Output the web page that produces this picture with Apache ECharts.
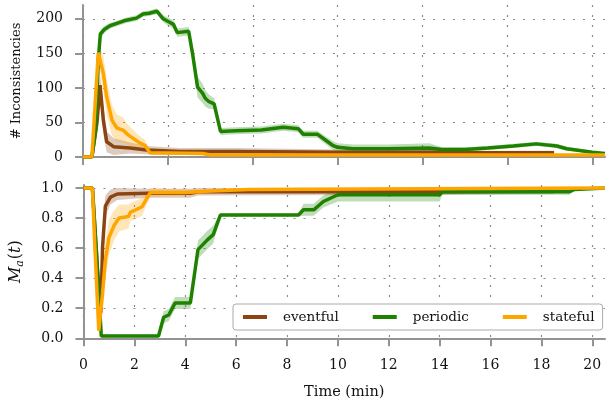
<!DOCTYPE html>
<html><head><meta charset="utf-8">
<script src="https://cdn.jsdelivr.net/npm/echarts@6/dist/echarts.min.js"></script>
<style>html,body{margin:0;padding:0;background:#fff}#c{width:606px;height:402px}</style>
</head><body><div id="c"></div>
<script>
// ---- tick values ----
const xTicksTop = [0, 200, 400, 600, 800, 1000, 1200].map(s => s / 60); // seconds -> min
const xTicksBottom = [0, 2, 4, 6, 8, 10, 12, 14, 16, 18, 20];
const yTicksTop = [0, 50, 100, 150, 200];
const yTicksBottom = [0, 0.2, 0.4, 0.6, 0.8, 1.0];

const names = ['eventful', 'periodic', 'stateful'];
const colors = ['#8b4513', '#1e8200', '#ffa500'];

// ---- top panel: # inconsistencies ----
const topEventfulT = [0, 0.35, 0.55, 0.67, 0.8, 0.93, 1.2, 1.85, 2.5, 3.8, 6, 10, 14, 14.2, 18.5];
const topEventfulV = [0, 0, 50, 104, 53, 22, 15, 13, 10, 8, 8, 7, 7, 6, 6];
const topEventfulS = [0, 0, 10, 15, 20, 15, 12, 8, 6, 5, 5, 4, 4, 3, 3];

const topPeriodicT = [0, 0.35, 0.5, 0.6, 0.68, 0.85, 1.06, 1.3, 1.7, 2.1, 2.36, 2.6, 2.9, 3.15, 3.4, 3.55, 3.7, 4.15, 4.3, 4.5, 4.7, 4.8, 4.95, 5.15, 5.4, 6.0, 7.0, 7.86, 8.45, 8.65, 9.2, 9.8, 10.0, 10.6, 12.0, 13.6, 14.1, 15.0, 15.9, 16.9, 17.8, 18.6, 19.0, 20.0, 20.5];
const topPeriodicV = [0, 0, 40, 140, 178, 185, 190, 193, 198, 201, 207, 208, 211, 200, 195, 192, 180, 182, 150, 101, 92, 85, 80, 77, 37, 38, 39, 43, 41, 33, 33, 17, 14, 12, 12, 13, 11, 11, 13, 16, 19, 16, 12, 7, 5];
const topPeriodicS = [0, 0, 5, 6, 6, 5, 4, 4, 4, 4, 4, 4, 4, 5, 6, 6, 6, 6, 12, 15, 14, 12, 10, 8, 5, 5, 5, 5, 5, 5, 5, 6, 6, 6, 6, 7, 3, 3, 3, 3, 3, 3, 3, 2, 2];

const topStatefulT = [0, 0.35, 0.6, 0.8, 0.93, 1.14, 1.33, 1.57, 1.77, 1.97, 2.24, 2.43, 2.63, 4.7, 5.0, 20.5];
const topStatefulV = [0, 0, 151, 121, 87, 53, 42, 39, 32, 27, 20, 17, 6, 5, 3, 3];
const topStatefulS = [0, 0, 15, 25, 25, 22, 20, 18, 15, 12, 10, 8, 3, 2, 1, 1];

// ---- bottom panel: M_a(t) ----
const botEventfulT = [0, 0.35, 0.55, 0.68, 0.75, 0.86, 1.06, 1.33, 2.5, 4.2, 4.5, 14, 18.5];
const botEventfulV = [1, 1, 0.45, 0.17, 0.61, 0.88, 0.94, 0.96, 0.965, 0.965, 0.975, 0.975, 0.98];
const botEventfulS = [0, 0, 0.1, 0.1, 0.12, 0.07, 0.05, 0.04, 0.03, 0.03, 0.025, 0.02, 0.02];

const botPeriodicT = [0, 0.35, 0.5, 0.7, 2.95, 3.15, 3.35, 3.6, 4.2, 4.5, 4.87, 5.1, 5.38, 8.45, 8.65, 9.05, 9.43, 10.0, 14.0, 14.1, 19.1, 19.3, 20.5];
const botPeriodicV = [1, 1, 0.6, 0.015, 0.015, 0.14, 0.155, 0.235, 0.235, 0.59, 0.655, 0.69, 0.82, 0.82, 0.855, 0.855, 0.91, 0.955, 0.955, 0.975, 0.975, 0.99, 1.0];
const botPeriodicS = [0, 0, 0.03, 0.01, 0.01, 0.04, 0.04, 0.04, 0.04, 0.06, 0.06, 0.06, 0.01, 0.01, 0.04, 0.04, 0.04, 0.045, 0.045, 0.02, 0.02, 0.01, 0.005];

const botStatefulT = [0, 0.35, 0.45, 0.6, 0.75, 0.86, 1.0, 1.2, 1.4, 1.77, 1.85, 2.05, 2.3, 2.5, 2.63, 4.0, 5.0, 6.5, 20.5];
const botStatefulV = [1, 1, 0.6, 0.05, 0.30, 0.52, 0.67, 0.75, 0.80, 0.81, 0.84, 0.855, 0.875, 0.935, 0.97, 0.97, 0.98, 0.99, 1.0];
const botStatefulS = [0, 0, 0.05, 0.05, 0.1, 0.12, 0.12, 0.1, 0.09, 0.08, 0.06, 0.06, 0.06, 0.04, 0.03, 0.02, 0.015, 0.01, 0.005];

const FONT = 'DejaVu Serif';
const AX = '#939393';
const series = [];
function addSeries(idx, panel, t, v, s) {
  const c = colors[idx], nm = names[idx];
  const band = t.map((x, i) => [x, v[i] - s[i], v[i] + s[i]]);
  series.push({
    type: 'custom', name: nm + ' band ' + panel, xAxisIndex: panel, yAxisIndex: panel,
    data: band, encode: {x: 0, y: [1, 2]}, clip: true, silent: true, z: 1,
    renderItem: function (params, api) {
      if (params.dataIndex !== 0) return null;
      const upper = band.map(d => api.coord([d[0], d[2]]));
      const lower = band.map(d => api.coord([d[0], d[1]])).reverse();
      return {type: 'polygon', shape: {points: upper.concat(lower)},
        style: {fill: c, opacity: 0.28}};
    }
  });
  series.push({type: 'line', name: nm, xAxisIndex: panel, yAxisIndex: panel,
    data: t.map((x, i) => [x, v[i]]), symbol: 'none',
    lineStyle: {color: c, width: 3.5}, itemStyle: {color: c}, z: 3 + idx});
}
addSeries(0, 0, topEventfulT, topEventfulV, topEventfulS);
addSeries(1, 0, topPeriodicT, topPeriodicV, topPeriodicS);
addSeries(2, 0, topStatefulT, topStatefulV, topStatefulS);
addSeries(0, 1, botEventfulT, botEventfulV, botEventfulS);
addSeries(1, 1, botPeriodicT, botPeriodicV, botPeriodicS);
addSeries(2, 1, botStatefulT, botStatefulV, botStatefulS);

const gridLine = {show: true, lineStyle: {color: '#8a8a8a', width: 1.2, type: [2, 8]}};
const axLine = {show: true, onZero: false, lineStyle: {color: AX, width: 2}};
const label = {fontFamily: FONT, fontSize: 14, color: '#111'};

const chart = echarts.init(document.getElementById('c'), null, {renderer: 'canvas'});
chart.setOption({
  animation: false,
  backgroundColor: '#fff',
  grid: [
    {left: 83, right: 1, top: 5, height: 152},
    {left: 83, right: 1, top: 185, height: 153.3}
  ],
  xAxis: [
    {type: 'value', gridIndex: 0, min: 0, max: 20.5,
      axisLine: axLine, axisTick: {show: true, customValues: xTicksTop, length: 8, lineStyle: {color: AX, width: 2}},
      axisLabel: {show: false}, splitLine: gridLine},
    {type: 'value', gridIndex: 1, min: 0, max: 20.5,
      axisLine: axLine, axisTick: {show: true, customValues: xTicksBottom, length: 8, lineStyle: {color: AX, width: 2}},
      axisLabel: Object.assign({customValues: xTicksBottom, margin: 20}, label), splitLine: gridLine,
      name: 'Time (min)', nameLocation: 'middle', nameGap: 46,
      nameTextStyle: {fontFamily: FONT, fontSize: 14.5, color: '#111'}}
  ],
  yAxis: [
    {type: 'value', gridIndex: 0, min: 0, max: 220,
      axisLine: axLine, axisTick: {show: true, customValues: yTicksTop, length: 8, lineStyle: {color: AX, width: 2}},
      axisLabel: Object.assign({customValues: yTicksTop, margin: 20}, label), splitLine: gridLine,
      name: '# Inconsistencies', nameLocation: 'middle', nameGap: 60,
      nameTextStyle: {fontFamily: FONT, fontSize: 13, color: '#111'}},
    {type: 'value', gridIndex: 1, min: 0, max: 1.02,
      axisLine: axLine, axisTick: {show: true, customValues: yTicksBottom, length: 8, lineStyle: {color: AX, width: 2}},
      axisLabel: Object.assign({customValues: yTicksBottom, margin: 20, formatter: v => v.toFixed(1)}, label),
      splitLine: gridLine,
      name: '{i|M}{s|a}{n|(}{i|t}{n|)}', nameLocation: 'middle', nameGap: 58,
      nameTextStyle: {fontFamily: FONT, fontSize: 16, color: '#111',
        rich: {i: {fontFamily: FONT, fontStyle: 'italic', fontSize: 16, color: '#111'},
               s: {fontFamily: FONT, fontStyle: 'italic', fontSize: 11, color: '#111', padding: [8, 1, 0, 0]},
               n: {fontFamily: FONT, fontSize: 16, color: '#111'}}}}
  ],
  legend: {
    data: names, left: 233, top: 304, orient: 'horizontal',
    icon: 'rect', itemWidth: 24, itemHeight: 4, itemGap: 34,
    padding: [6, 8, 6, 10], borderColor: '#aaa', borderWidth: 1, borderRadius: 3,
    backgroundColor: '#fff',
    textStyle: {fontFamily: FONT, fontSize: 13.5, color: '#111', padding: [0, 0, 0, 11]}
  },
  series: series
});
</script>
</body></html>
